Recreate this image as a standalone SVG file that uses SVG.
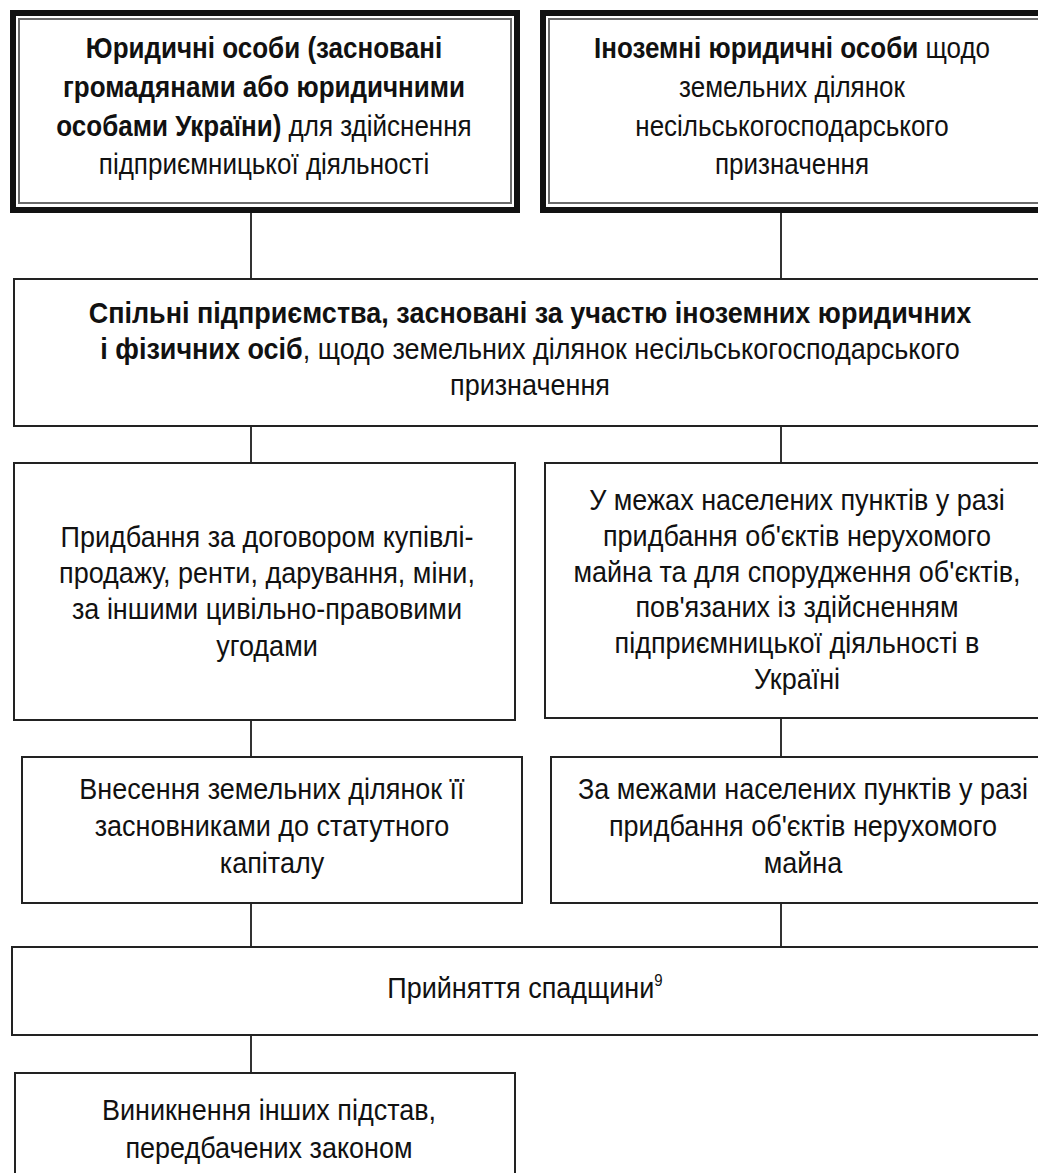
<svg xmlns="http://www.w3.org/2000/svg" width="1038" height="1173" viewBox="0 0 1038 1173">
<style>
  .bg { fill: #ffffff; }
  .box { fill: #ffffff; stroke: #222222; stroke-width: 2; }
  .outer { fill: #ffffff; stroke: #111111; stroke-width: 6; }
  .inner { fill: none; stroke: #6a6a6a; stroke-width: 2; }
  .conn { stroke: #333333; stroke-width: 2; fill: none; }
  text { font-family: "Liberation Sans", Arial, sans-serif; fill: #111111; text-anchor: middle; }
  .t26 { font-size: 26px; }
  .t27 { font-size: 27px; }
  .b { font-weight: bold; }
</style>
<rect class="bg" x="0" y="0" width="1038" height="1173"/>

<g id="connectors">
  <line class="conn" x1="251" y1="213" x2="251" y2="279"/>
  <line class="conn" x1="781" y1="213" x2="781" y2="279"/>
  <line class="conn" x1="251" y1="426" x2="251" y2="463"/>
  <line class="conn" x1="781" y1="426" x2="781" y2="463"/>
  <line class="conn" x1="251" y1="720" x2="251" y2="757"/>
  <line class="conn" x1="781" y1="718" x2="781" y2="757"/>
  <line class="conn" x1="251" y1="903" x2="251" y2="947"/>
  <line class="conn" x1="781" y1="903" x2="781" y2="947"/>
  <line class="conn" x1="251" y1="1035" x2="251" y2="1073"/>
</g>

<g id="node-legal-ua">
  <rect class="outer" x="13" y="13" width="504" height="197"/>
  <rect class="inner" x="19" y="19" width="492" height="184"/>
  <text class="t26" x="264" y="0" transform="translate(0 58) scale(1 1.1)"><tspan class="b">Юридичні особи (засновані</tspan></text>
  <text class="t26" x="264" y="0" transform="translate(0 97) scale(1 1.1)"><tspan class="b">громадянами або юридичними</tspan></text>
  <text class="t26" x="264" y="0" transform="translate(0 136) scale(1 1.1)"><tspan class="b">особами України)</tspan> для здійснення</text>
  <text class="t26" x="264" y="0" transform="translate(0 174) scale(1 1.1)">підприємницької діяльності</text>
</g>

<g id="node-legal-foreign">
  <rect class="outer" x="543" y="13" width="510" height="197"/>
  <rect class="inner" x="549" y="19" width="500" height="184"/>
  <text class="t26" x="792" y="0" transform="translate(0 58) scale(1 1.1)"><tspan class="b">Іноземні юридичні особи</tspan> щодо</text>
  <text class="t26" x="792" y="0" transform="translate(0 97) scale(1 1.1)">земельних ділянок</text>
  <text class="t26" x="792" y="0" transform="translate(0 136) scale(1 1.1)">несільськогосподарського</text>
  <text class="t26" x="792" y="0" transform="translate(0 174) scale(1 1.1)">призначення</text>
</g>

<g id="node-joint">
  <rect class="box" x="14" y="279" width="1040" height="147"/>
  <text class="t27" x="530" y="0" transform="translate(0 323) scale(1 1.1)"><tspan class="b">Спільні підприємства, засновані за участю іноземних юридичних</tspan></text>
  <text class="t27" x="530" y="0" transform="translate(0 359) scale(1 1.1)"><tspan class="b">і фізичних осіб</tspan>, щодо земельних ділянок несільськогосподарського</text>
  <text class="t27" x="530" y="0" transform="translate(0 395) scale(1 1.1)">призначення</text>
</g>

<g id="node-purchase">
  <rect class="box" x="14" y="463" width="501" height="257"/>
  <text class="t27" x="267" y="0" transform="translate(0 547) scale(1 1.1)">Придбання за договором купівлі-</text>
  <text class="t27" x="267" y="0" transform="translate(0 583) scale(1 1.1)">продажу, ренти, дарування, міни,</text>
  <text class="t27" x="267" y="0" transform="translate(0 619) scale(1 1.1)">за іншими цивільно-правовими</text>
  <text class="t27" x="267" y="0" transform="translate(0 656) scale(1 1.1)">угодами</text>
</g>

<g id="node-within">
  <rect class="box" x="545" y="463" width="510" height="255"/>
  <text class="t27" x="797" y="0" transform="translate(0 510) scale(1 1.1)">У межах населених пунктів у разі</text>
  <text class="t27" x="797" y="0" transform="translate(0 546) scale(1 1.1)">придбання об'єктів нерухомого</text>
  <text class="t27" x="797" y="0" transform="translate(0 582) scale(1 1.1)">майна та для спорудження об'єктів,</text>
  <text class="t27" x="797" y="0" transform="translate(0 617) scale(1 1.1)">пов'язаних із здійсненням</text>
  <text class="t27" x="797" y="0" transform="translate(0 653) scale(1 1.1)">підприємницької діяльності в</text>
  <text class="t27" x="797" y="0" transform="translate(0 689) scale(1 1.1)">Україні</text>
</g>

<g id="node-capital">
  <rect class="box" x="22" y="757" width="500" height="146"/>
  <text class="t27" x="272" y="0" transform="translate(0 799) scale(1 1.1)">Внесення земельних ділянок її</text>
  <text class="t27" x="272" y="0" transform="translate(0 836) scale(1 1.1)">засновниками до статутного</text>
  <text class="t27" x="272" y="0" transform="translate(0 873) scale(1 1.1)">капіталу</text>
</g>

<g id="node-outside">
  <rect class="box" x="551" y="757" width="500" height="146"/>
  <text class="t27" x="803" y="0" transform="translate(0 799) scale(1 1.1)">За межами населених пунктів у разі</text>
  <text class="t27" x="803" y="0" transform="translate(0 836) scale(1 1.1)">придбання об'єктів нерухомого</text>
  <text class="t27" x="803" y="0" transform="translate(0 873) scale(1 1.1)">майна</text>
</g>

<g id="node-inheritance">
  <rect class="box" x="12" y="947" width="1042" height="88"/>
  <text class="t27" x="525" y="0" transform="translate(0 998) scale(1 1.1)">Прийняття спадщини<tspan font-size="15" dy="-11">9</tspan></text>
</g>

<g id="node-other">
  <rect class="box" x="15" y="1073" width="500" height="120"/>
  <text class="t27" x="269" y="0" transform="translate(0 1120) scale(1 1.1)">Виникнення інших підстав,</text>
  <text class="t27" x="269" y="0" transform="translate(0 1158) scale(1 1.1)">передбачених законом</text>
</g>
</svg>
